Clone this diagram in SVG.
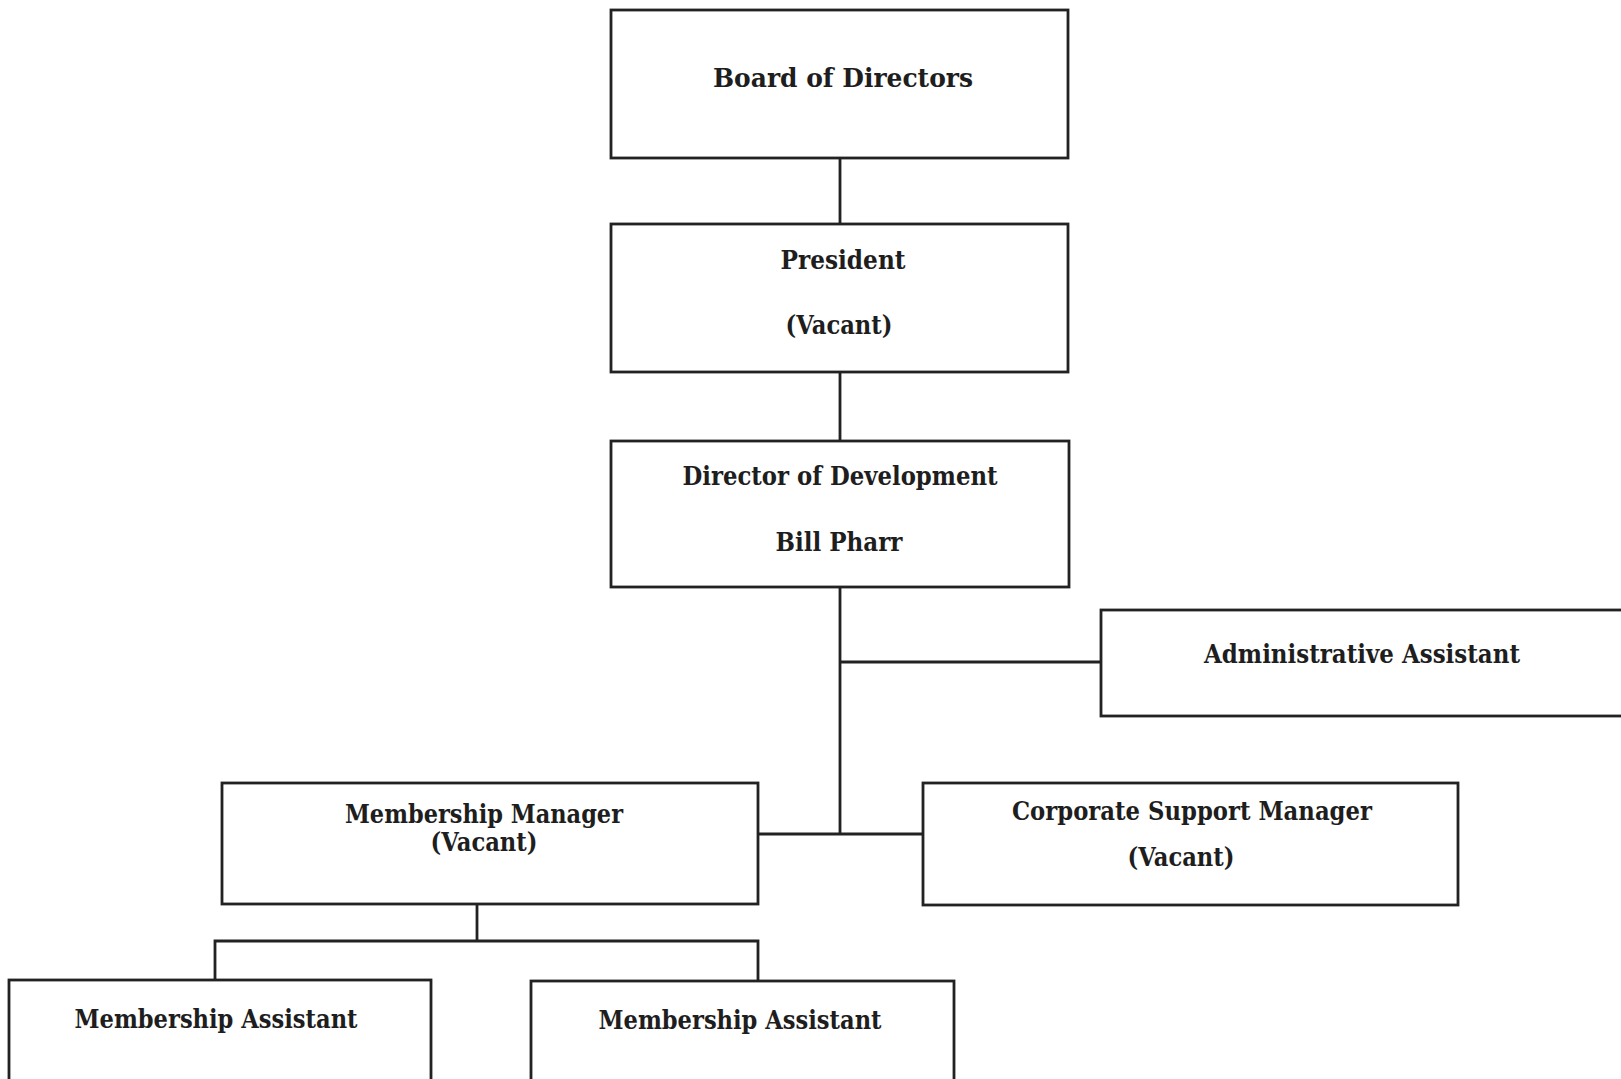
<svg xmlns="http://www.w3.org/2000/svg" width="1621" height="1079" viewBox="0 0 1621 1079">
<style>
.box{fill:#fff;stroke:#222;stroke-width:2.8}
.ln{fill:none;stroke:#222;stroke-width:2.8}
.t{font-family:"DejaVu Serif","Liberation Serif",serif;font-weight:bold;font-size:26px;fill:#1e1e1e;text-anchor:middle}
</style>
<rect width="1621" height="1079" fill="#fff"/>
<g id="connectors">
<line class="ln" x1="840" y1="158" x2="840" y2="224"/>
<line class="ln" x1="840" y1="372" x2="840" y2="441"/>
<line class="ln" x1="840" y1="587" x2="840" y2="834"/>
<line class="ln" x1="840" y1="662" x2="1101" y2="662"/>
<line class="ln" x1="758" y1="834" x2="923" y2="834"/>
<line class="ln" x1="477" y1="904" x2="477" y2="941"/>
<polyline class="ln" points="215,980 215,941 758,941 758,981"/>
</g>
<g id="board">
<rect class="box" x="611" y="10" width="457" height="148"/>
<text class="t" x="843" y="87" textLength="260" lengthAdjust="spacingAndGlyphs">Board of Directors</text>
</g>
<g id="president">
<rect class="box" x="611" y="224" width="457" height="148"/>
<text class="t" x="843" y="269" textLength="125" lengthAdjust="spacingAndGlyphs">President</text>
<text class="t" x="839" y="334" textLength="107" lengthAdjust="spacingAndGlyphs">(Vacant)</text>
</g>
<g id="director">
<rect class="box" x="611" y="441" width="458" height="146"/>
<text class="t" x="840" y="485" textLength="315" lengthAdjust="spacingAndGlyphs">Director of Development</text>
<text class="t" x="839" y="551" textLength="127" lengthAdjust="spacingAndGlyphs">Bill Pharr</text>
</g>
<g id="admin">
<rect class="box" x="1101" y="610" width="530" height="106"/>
<text class="t" x="1362" y="663" textLength="316" lengthAdjust="spacingAndGlyphs">Administrative Assistant</text>
</g>
<g id="membership-manager">
<rect class="box" x="222" y="783" width="536" height="121"/>
<text class="t" x="484" y="823" textLength="278" lengthAdjust="spacingAndGlyphs">Membership Manager</text>
<text class="t" x="484" y="851" textLength="107" lengthAdjust="spacingAndGlyphs">(Vacant)</text>
</g>
<g id="corporate-support-manager">
<rect class="box" x="923" y="783" width="535" height="122"/>
<text class="t" x="1192" y="820" textLength="360" lengthAdjust="spacingAndGlyphs">Corporate Support Manager</text>
<text class="t" x="1181" y="866" textLength="107" lengthAdjust="spacingAndGlyphs">(Vacant)</text>
</g>
<g id="membership-assistant-1">
<rect class="box" x="9" y="980" width="422" height="110"/>
<text class="t" x="216" y="1028" textLength="283" lengthAdjust="spacingAndGlyphs">Membership Assistant</text>
</g>
<g id="membership-assistant-2">
<rect class="box" x="531" y="981" width="423" height="110"/>
<text class="t" x="740" y="1029" textLength="283" lengthAdjust="spacingAndGlyphs">Membership Assistant</text>
</g>
</svg>
